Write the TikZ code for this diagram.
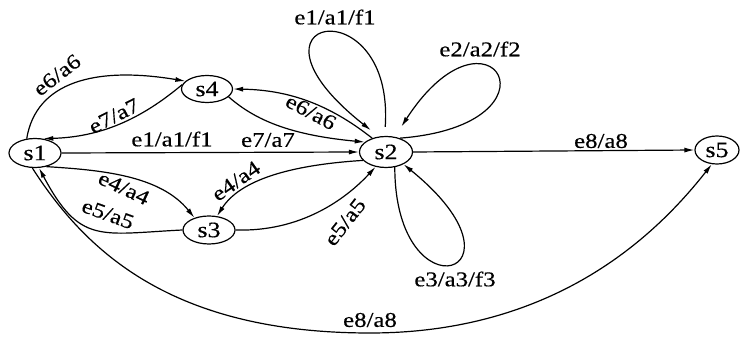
\documentclass[tikz,border=0pt]{standalone}
\usepackage{fontspec}
\setmainfont{Liberation Serif}[FakeStretch=1.18,FakeBold=0.4]
\usetikzlibrary{shapes.geometric,arrows.meta}
\begin{document}
\begin{tikzpicture}[x=1pt,y=-1pt,
  stnode/.style={ellipse,draw,line width=1.2pt,inner sep=0pt,font=\fontsize{22}{22}\selectfont},
  lab/.style={inner sep=0pt,font=\fontsize{21}{21}\selectfont},
  arr/.style={line width=1.2pt,-{Latex[length=10pt,width=5pt]}}]
\useasboundingbox (0,0) rectangle (740,339);
\node[stnode,minimum width=52pt,minimum height=29pt] (s1) at (35,153) {s1};
\node[stnode,minimum width=51pt,minimum height=27pt] (s4) at (207,89) {s4};
\node[stnode,minimum width=53pt,minimum height=31pt] (s2) at (386,152) {s2};
\node[stnode,minimum width=52pt,minimum height=28pt] (s3) at (209,230) {s3};
\node[stnode,minimum width=44pt,minimum height=28pt] (s5) at (717,150) {s5};
\coordinate (bot) at (370,333);
% edges
\draw[arr] (s1.120) .. controls (36,82) and (95,66) .. (s4.160);
\draw[arr] (s4.170) .. controls (140,120) and (100,137) .. (s1.60);
\draw[arr] (s1.east) -- (s2.west);
\draw[arr] (s4.-20) .. controls (255,120) and (290,135) .. (s2.155);
\draw[arr] (s2.135) .. controls (330,105) and (290,90) .. (s4.east);
\draw[arr] (s2.200) .. controls (290,165) and (240,180) .. (s3.60);
\draw[arr] (s1.-50) .. controls (100,170) and (160,175) .. (s3.140);
\draw[arr] (s3.west) .. controls (100,234) and (80,245) .. (s1.-75);
\draw[arr] (s1.-100) .. controls (85,250) and (170,333) .. (bot) .. controls (560,333) and (660,230) .. (s5.-110);
\draw[arr] (s3.east) .. controls (300,232) and (345,200) .. (s2.-125);
\draw[arr] (s2.east) -- (s5.west);
% loops
\draw[arr,shorten <=9pt,shorten >=10pt] (s2.95) .. controls (395,-15) and (225,15) .. (s2.115);
\draw[arr,shorten >=12pt] (s2.45) .. controls (570,125) and (490,-10) .. (s2.60);
\draw[arr] (s2.-60) .. controls (395,320) and (540,275) .. (s2.-35);
% labels
\node[lab,rotate=38] (l1) at (57,75) {e6/a6};
\node[lab,rotate=27] (l2) at (114,116) {e7/a7};
\node[lab] (l3) at (172,139) {e1/a1/f1};
\node[lab] (l4) at (268,140) {e7/a7};
\node[lab,rotate=-28] (l5) at (311,112) {e6/a6};
\node[lab,rotate=-25] (l6) at (124,188) {e4/a4};
\node[lab,rotate=35] (l7) at (236,181) {e4/a4};
\node[lab,rotate=-20] (l8) at (108,214) {e5/a5};
\node[lab,rotate=52] (l9) at (345,222) {e5/a5};
\node[lab] (l10) at (335,17) {e1/a1/f1};
\node[lab] (l11) at (480,49) {e2/a2/f2};
\node[lab] (l12) at (455,279) {e3/a3/f3};
\node[lab] (l13) at (601,141) {e8/a8};
\node[lab] (l14) at (370,320) {e8/a8};
\end{tikzpicture}
\end{document}
